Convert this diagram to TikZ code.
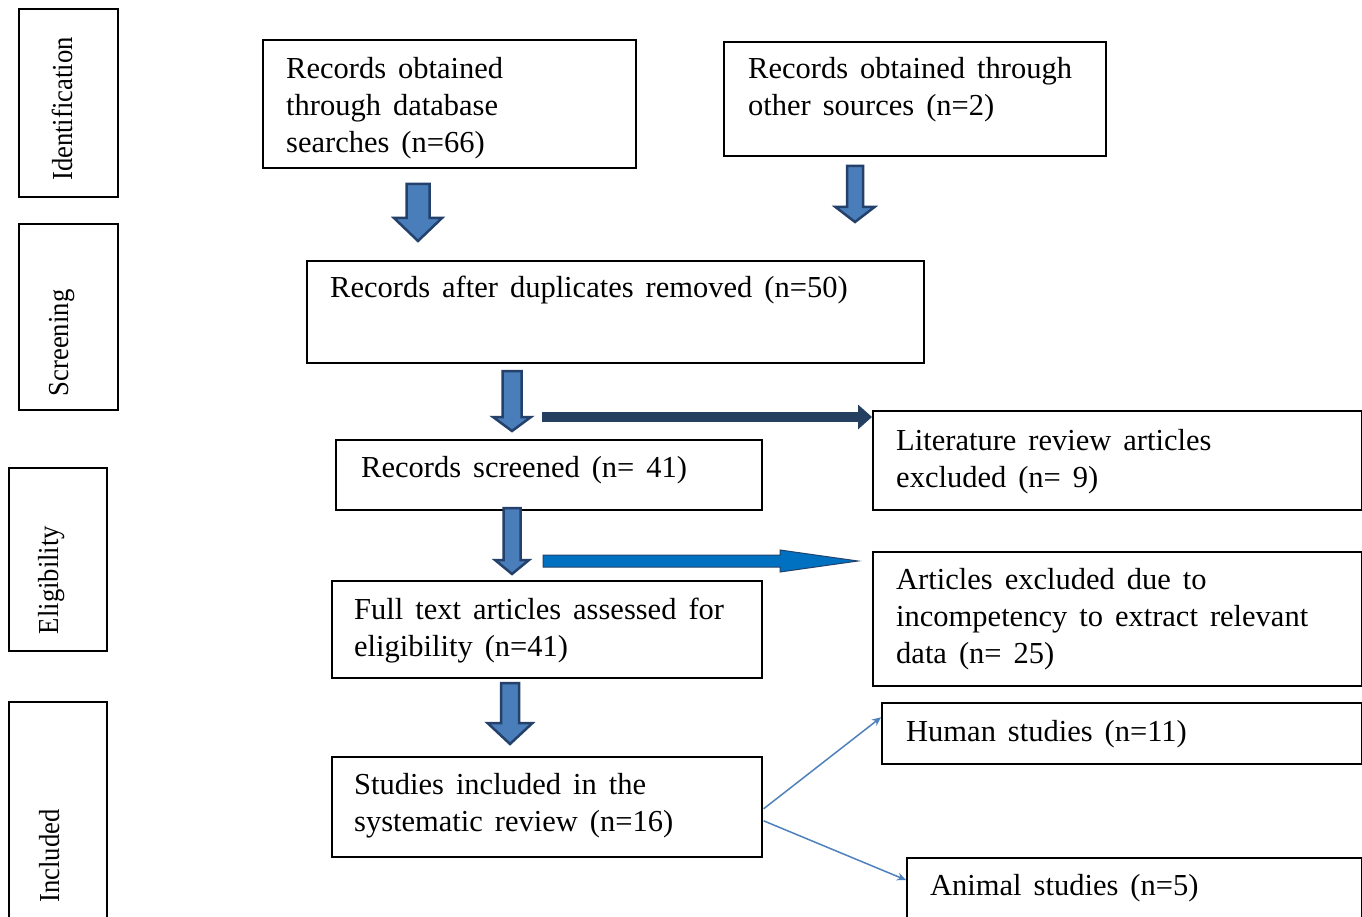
\documentclass[tikz,border=0pt]{standalone}
\usepackage{fontspec}
\setmainfont{Liberation Serif}
\newfontfamily\narrowfont[FakeStretch=0.92]{Liberation Serif}
\usetikzlibrary{positioning, arrows.meta, calc}
\definecolor{arrowline}{HTML}{23416A}
\definecolor{arrowfill}{HTML}{4A7EBB}
\definecolor{navyline}{HTML}{243F60}
\definecolor{brightblue}{HTML}{0070C0}
\definecolor{thinblue}{HTML}{4F81BD}
\newcommand{\widespace}{\spaceskip=12pt plus 2pt\relax}
% x, top, head base, tip, half shaft, half head
\newcommand{\blockdown}[6]{%
	\draw[downarrow] (#1-#5,#2) -- (#1+#5,#2) -- (#1+#5,#3) -- (#1+#6,#3) -- (#1,#4) -- (#1-#6,#3) -- (#1-#5,#3) -- cycle;}

\begin{document}
\begin{tikzpicture}[x=1pt, y=-1pt,
	box/.style={draw=black, line width=1.6pt, anchor=north west, inner sep=0pt},
	txt/.style={anchor=base west, align=left, inner sep=0pt, font=\fontsize{30.5}{37}\selectfont\widespace},
	stage/.style={rotate=90, inner sep=0pt, font=\narrowfont\fontsize{29}{37}\selectfont},
	downarrow/.style={draw=arrowline, line width=2.5pt, fill=arrowfill, line join=miter}]
	\useasboundingbox[fill=white] (0,0) rectangle (1362,917);

	% stages on the left
	\node[box, minimum width=99, minimum height=188] (ident) at (18,8) {};
	\node[box, minimum width=99, minimum height=186] (screen) at (18,223) {};
	\node[box, minimum width=98, minimum height=183] (elig) at (8,467) {};
	\node[box, minimum width=98, minimum height=240] (incl) at (8,701) {};
	\node[stage] (identt) at (62,109) {Identification};
	\node[stage] (screent) at (62,343) {Screening};
	\node[stage] (eligt) at (52,580) {Eligibility};
	\node[stage] (inclt) at (50,856) {Included};

	% boxes of the flow
	\node[box, minimum width=373, minimum height=128] (db) at (262,39) {};
	\node[box, minimum width=382, minimum height=114] (other) at (723,41) {};
	\node[box, minimum width=617, minimum height=102] (dup) at (306,260) {};
	\node[box, minimum width=426, minimum height=70] (scr) at (335,439) {};
	\node[box, minimum width=489, minimum height=99] (lit) at (872,410) {};
	\node[box, minimum width=430, minimum height=97] (full) at (331,580) {};
	\node[box, minimum width=489, minimum height=134] (excl) at (872,551) {};
	\node[box, minimum width=480, minimum height=61] (human) at (881,702) {};
	\node[box, minimum width=430, minimum height=100] (incstud) at (331,756) {};
	\node[box, minimum width=455, minimum height=80] (animal) at (906,857) {};

	% texts, placed by the baseline of their last line
	\node[txt] (dbt) at (286,153) {Records obtained\\through database\\searches (n=66)};
	\node[txt] (othert) at (748,116) {Records obtained through\\other sources (n=2)};
	\node[txt] (dupt) at (330,298) {Records after duplicates removed (n=50)};
	\node[txt] (scrt) at (361,477) {Records screened (n= 41)};
	\node[txt] (litt) at (896,487) {Literature review articles\\excluded (n= 9)};
	\node[txt] (fullt) at (354,656) {Full text articles assessed for\\eligibility (n=41)};
	\node[txt] (exclt) at (896,663) {Articles excluded due to\\incompetency to extract relevant\\data (n= 25)};
	\node[txt] (humant) at (906,741) {Human studies (n=11)};
	\node[txt] (incstudt) at (354,831) {Studies included in the\\systematic review (n=16)};
	\node[txt] (animalt) at (930,895) {Animal studies (n=5)};

	% block arrows
	\blockdown{418}{184}{218}{241}{11.5}{24}
	\blockdown{855}{166}{207}{222}{8}{19.5}
	\blockdown{512}{371}{417}{431}{9.5}{19}
	\blockdown{512}{508}{560}{574}{8.5}{17}
	\blockdown{510}{683}{723}{744}{9}{22.5}

	% arrows to the exclusions
	\coordinate (h1) at (542,417);
	\draw[navyline, line width=10pt, -{Triangle[length=14pt, width=24pt]}] (h1) -- (h1 -| lit.west);
	\coordinate (h2) at (543,561);
	\draw[arrowline, line width=1pt, fill=brightblue] (h2) ++(0,-6) -- ++(237,0) -- ++(0,-5) -- (858,561) -- (780,572) -- ++(0,-5) -- (543,567) -- cycle;

	% thin arrows to the kinds of study
	\draw[thinblue, line width=1.5pt, -{Stealth[length=9pt, width=8pt]}] ($(incstud.east)+(1,2)$) -- ($(human.west)+(0,-16)$);
	\draw[thinblue, line width=1.5pt, -{Stealth[length=9pt, width=8pt]}] ($(incstud.east)+(1,14)$) -- ($(animal.north west)+(0,23)$);
\end{tikzpicture}
\end{document}
